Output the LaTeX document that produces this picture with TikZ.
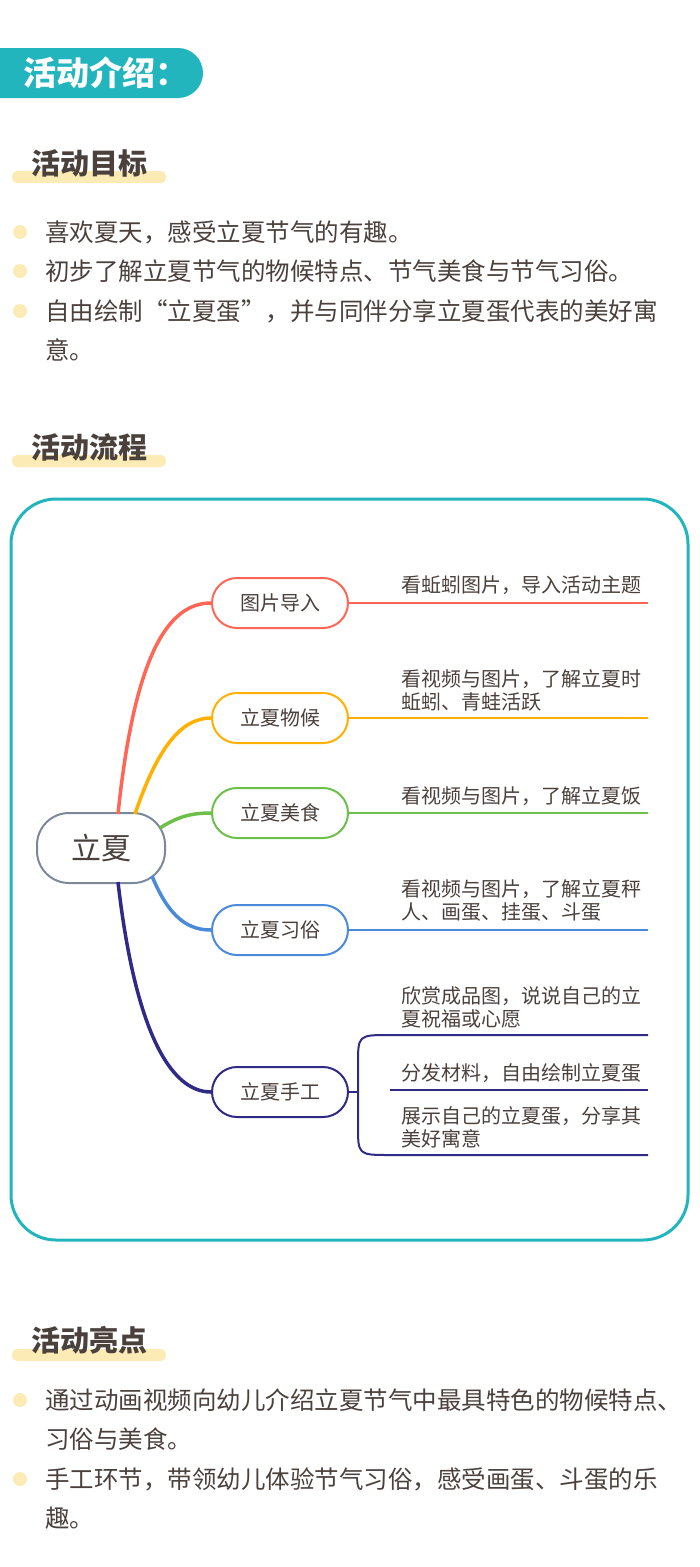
\documentclass[tikz,border=0pt]{standalone}
\usepackage{fontspec}
\setmainfont{Noto Sans CJK SC}
\usetikzlibrary{positioning}
\definecolor{teal}{HTML}{22B5BD}
\definecolor{hl}{HTML}{FDEBB5}
\definecolor{ink}{HTML}{4A403C}
\definecolor{cred}{HTML}{FF6655}
\definecolor{corange}{HTML}{FFB000}
\definecolor{cgreen}{HTML}{6CC04A}
\definecolor{cblue}{HTML}{4A8AD8}
\definecolor{cnavy}{HTML}{2E2A85}
\definecolor{cgray}{HTML}{7A8899}
\tikzset{head/.style={anchor=west, text=ink, font=\fontsize{29}{29}\selectfont\bfseries},
  bar/.style={fill=hl, rounded corners=5pt},
  dot/.style={circle, fill=hl, minimum size=14pt, inner sep=0pt},
  item/.style={anchor=west, text=ink, font=\fontsize{24.5}{39}\selectfont, align=left, inner sep=0pt},
  topic/.style={draw, line width=2pt, rounded corners=25pt, minimum width=136pt, minimum height=50pt, fill=white, text=ink, font=\fontsize{20}{20}\selectfont},
  lbl/.style={anchor=south west, text=ink, font=\fontsize{20}{23}\selectfont, align=left, inner sep=1pt},
  branch/.style={line width=3.5pt}}
\begin{document}
\begin{tikzpicture}[x=1pt,y=-1pt]
\useasboundingbox (0,0) rectangle (700,1567);
% header
\fill[teal, rounded corners=25pt] (-40,48) rectangle (203,98);
\node[anchor=west, text=white, font=\fontsize{33}{33}\selectfont\bfseries] (title) at (20,73) {活动介绍：};
% goals
\fill[bar] (12,171) rectangle (166,183);
\node[head] (goals) at (28,163) {活动目标};
\foreach \y in {232,271,311} \node[dot] at (20,\y) {};
\node[item] (g1) at (45,232) {喜欢夏天，感受立夏节气的有趣。};
\node[item] (g2) at (45,271) {初步了解立夏节气的物候特点、节气美食与节气习俗。};
\node[item] (g3) at (45,330) {自由绘制“立夏蛋”，并与同伴分享立夏蛋代表的美好寓\\意。};
% flow
\fill[bar] (12,455) rectangle (166,467);
\node[head] (flow) at (28,447) {活动流程};
\draw[teal, line width=3pt, rounded corners=45pt] (11,499) rectangle (688,1240);
\node[topic, draw=cgray, minimum width=128pt, minimum height=70pt, rounded corners=32pt, font=\fontsize{30}{30}\selectfont] (lx) at (101,848) {立夏};
\node[topic, draw=cred] (t1) at (280,603) {图片导入};
\node[topic, draw=corange] (t2) at (280,718) {立夏物候};
\node[topic, draw=cgreen] (t3) at (280,813) {立夏美食};
\node[topic, draw=cblue] (t4) at (280,930) {立夏习俗};
\node[topic, draw=cnavy] (t5) at (280,1092) {立夏手工};
\begin{scope}[on background layer/.try]
\draw[branch, cred] (118,814) .. controls (135,650) and (170,603) .. (t1.west);
\draw[branch, corange] (135,814) .. controls (160,740) and (185,718) .. (t2.west);
\draw[branch, cgreen] (160,828) .. controls (180,815) and (195,813) .. (t3.west);
\draw[branch, cblue] (152,876) .. controls (170,920) and (190,930) .. (t4.west);
\draw[branch, cnavy] (118,882) .. controls (135,1030) and (170,1092) .. (t5.west);
\end{scope}
\coordinate (e1) at (648,603);
\coordinate (e2) at (648,718);
\coordinate (e3) at (648,813);
\coordinate (e4) at (648,930);
\draw[cred, line width=2pt] (t1.east) -- (e1);
\draw[corange, line width=2pt] (t2.east) -- (e2);
\draw[cgreen, line width=2pt] (t3.east) -- (e3);
\draw[cblue, line width=2pt] (t4.east) -- (e4);
\node[lbl] (l1) at (400,596) {看蚯蚓图片，导入活动主题};
\node[lbl] (l2) at (400,712) {看视频与图片，了解立夏时\\蚯蚓、青蛙活跃};
\node[lbl] (l3) at (400,807) {看视频与图片，了解立夏饭};
\node[lbl] (l4) at (400,923) {看视频与图片，了解立夏秤\\人、画蛋、挂蛋、斗蛋};
% craft bracket
\coordinate (b1) at (648,1035);
\coordinate (b2) at (648,1090);
\coordinate (b3) at (648,1155);
\coordinate (bk) at (358,1092);
\draw[cnavy, line width=2pt] (t5.east) -- (bk);
\draw[cnavy, line width=2pt] (bk) -- (358,1065) .. controls (358,1035) .. (390,1035) -- (b1);
\draw[cnavy, line width=2pt] (bk) -- (358,1125) .. controls (358,1155) .. (390,1155) -- (b3);
\draw[cnavy, line width=2pt] (390,1090) -- (b2);
\node[lbl] (l5) at (400,1029) {欣赏成品图，说说自己的立\\夏祝福或心愿};
\node[lbl] (l6) at (400,1084) {分发材料，自由绘制立夏蛋};
\node[lbl] (l7) at (400,1149) {展示自己的立夏蛋，分享其\\美好寓意};
% highlights
\fill[bar] (12,1349) rectangle (166,1361);
\node[head] (high) at (28,1340) {活动亮点};
\foreach \y in {1400,1479} \node[dot] at (20,\y) {};
\node[item] (h1) at (45,1420) {通过动画视频向幼儿介绍立夏节气中最具特色的物候特点、\\习俗与美食。};
\node[item] (h2) at (45,1499) {手工环节，带领幼儿体验节气习俗，感受画蛋、斗蛋的乐\\趣。};
\end{tikzpicture}
\end{document}
